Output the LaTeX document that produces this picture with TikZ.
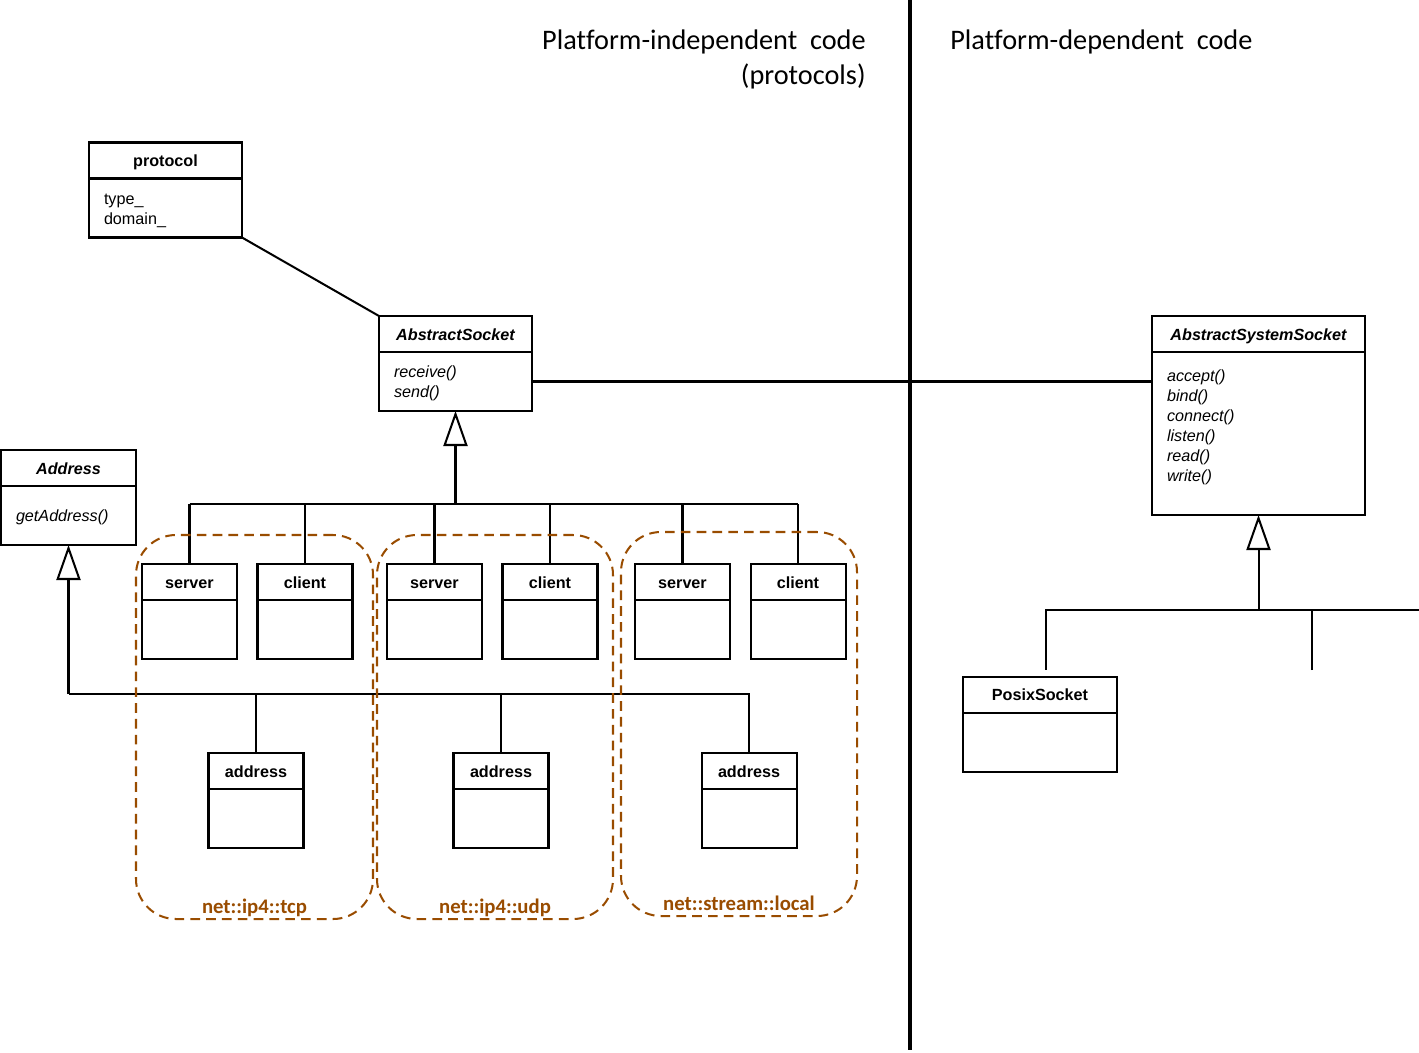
\documentclass[tikz,border=0pt]{standalone}
\usepackage{fontspec}
\setmainfont{Liberation Sans}
\newfontfamily\titlefont[Ligatures=CommonOff]{Carlito}
\usetikzlibrary{positioning,arrows.meta}

\definecolor{pkgbrown}{RGB}{153,76,0}

\tikzstyle{head} = [draw, rectangle, line width=1.15pt, outer sep=0pt, inner sep=0pt, minimum height=0.72cm, text height=7pt, text depth=0pt, font=\fontsize{9.2}{11.3}\selectfont\bfseries]
\tikzstyle{ahead} = [head, font=\fontsize{9.2}{11.3}\selectfont\bfseries\itshape]
\tikzstyle{body} = [draw, rectangle, line width=1.15pt, outer sep=0pt, inner xsep=0.3cm, inner ysep=0pt, minimum height=1.18cm, align=left, execute at begin node=\rule{0pt}{8.9pt}, font=\fontsize{9.2}{11.3}\selectfont]
\tikzstyle{abody} = [body, font=\fontsize{9.2}{11.3}\selectfont\itshape]
\tikzstyle{line} = [draw, line width=1.15pt]
\tikzstyle{inherit} = [draw, line width=1.15pt, -{Triangle[open, length=0.7cm, width=0.48cm]}]
\tikzstyle{group} = [draw=pkgbrown, dash pattern=on 5.5pt off 3.5pt, line width=1.15pt, rounded corners=0.8cm, minimum height=7.68cm]
\tikzstyle{grouplabel} = [text=pkgbrown, font=\titlefont\fontsize{11.8}{14}\selectfont\bfseries, anchor=base, inner sep=0pt]
\tikzstyle{title} = [font=\titlefont\fontsize{16.1}{19.8}\selectfont, inner sep=0pt]

\begin{document}
\begin{tikzpicture}
    \useasboundingbox (0,0) rectangle (28.38,-21.04);
    % Titles and divider
    \node [title, align=right, anchor=north east] (indep) at (17.32,-0.6) {Platform-independent\hspace{0.45em}code\\(protocols)};
    \node [title, anchor=north west] (dep) at (19.0,-0.6) {Platform-dependent\hspace{0.45em}code};
    \coordinate (divtop) at (18.2,0);
    \coordinate (divbot) at (18.2,-21.0);
    \draw [line width=2.3pt] (divtop) -- (divbot);

    % Place nodes
    \node [head, minimum width=3.06cm] (proto) at (3.31,-3.21) {protocol};
    \node [body, text width=2.46cm, below=0pt of proto] (protob) {type\_\\domain\_};
    \node [ahead, minimum width=3.06cm] (asock) at (9.11,-6.68) {AbstractSocket};
    \node [abody, text width=2.46cm, below=0pt of asock] (asockb) {receive()\\send()};
    \node [ahead, minimum width=4.26cm] (syssock) at (25.17,-6.68) {AbstractSystemSocket};
    \node [abody, text width=3.66cm, minimum height=3.26cm, below=0pt of syssock] (syssockb) {accept()\\bind()\\connect()\\listen()\\read()\\write()\\~};
    \node [ahead, minimum width=2.7cm] (addr) at (1.37,-9.36) {Address};
    \node [abody, text width=2.1cm, below=0pt of addr] (addrb) {getAddress()};
    \node [head, minimum width=3.08cm] (posix) at (20.8,-13.89) {PosixSocket};
    \node [body, minimum width=3.08cm, below=0pt of posix] (posixb) {};

    \node [head, minimum width=1.9cm] (srv1) at (3.79,-11.64) {server};
    \node [head, minimum width=1.9cm, right of=srv1, node distance=2.31cm] (cli1) {client};
    \node [head, minimum width=1.9cm, right of=srv1, node distance=4.9cm] (srv2) {server};
    \node [head, minimum width=1.9cm, right of=srv2, node distance=2.31cm] (cli2) {client};
    \node [head, minimum width=1.9cm, right of=srv1, node distance=9.86cm] (srv3) {server};
    \node [head, minimum width=1.9cm, right of=srv3, node distance=2.31cm] (cli3) {client};
    \node [head, minimum width=1.9cm] (ad1) at (5.12,-15.42) {address};
    \node [head, minimum width=1.9cm, right of=ad1, node distance=4.9cm] (ad2) {address};
    \node [head, minimum width=1.9cm, right of=ad1, node distance=9.86cm] (ad3) {address};
    \foreach \n in {srv1,cli1,srv2,cli2,srv3,cli3,ad1,ad2,ad3}
        \node [body, minimum width=1.9cm, below=0pt of \n] (\n b) {};

    % Draw edges
    \draw [line] (protob.south east) -- (asock.north west);
    \draw [line] (asockb.east) -- (asockb.east -| syssockb.west);

    \path (asockb.south) ++(0,-1.86) coordinate (bus1);
    \draw [inherit] (bus1) -- (asockb.south);
    \draw [line] (srv1.north |- bus1) -- (cli3.north |- bus1);
    \foreach \n in {srv1,cli1,srv2,cli2,srv3,cli3}
        \draw [line] (\n.north) -- (\n.north |- bus1);

    \path (addrb.south) ++(0,-2.98) coordinate (bus2);
    \draw [inherit] (bus2) -- (addrb.south);
    \draw [line] (bus2) -| (ad3.north);
    \draw [line] (ad1.north) -- (ad1.north |- bus2);
    \draw [line] (ad2.north) -- (ad2.north |- bus2);

    \path (syssockb.south) ++(0,-1.9) coordinate (bus3);
    \path (posix.north) ++(0.12,0.14) coordinate (posixtop);
    \path (bus3) ++(1.07,-1.2) coordinate (stub);
    \path (bus3) ++(3.21,0) coordinate (busend);
    \draw [inherit] (bus3) -- (syssockb.south);
    \draw [line] (posixtop) |- (busend);
    \draw [line] (stub) -- (stub |- bus3);

    % Packages
    \node [group, minimum width=4.74cm] (tcp) at (5.09,-14.54) {};
    \node [grouplabel] at ([yshift=0.14cm]tcp.south) {net::ip4::tcp};
    \node [group, minimum width=4.72cm] (udp) at (9.90,-14.54) {};
    \node [grouplabel] at ([yshift=0.14cm]udp.south) {net::ip4::udp};
    \node [group, minimum width=4.72cm] (local) at (14.78,-14.48) {};
    \node [grouplabel] at ([yshift=0.14cm]local.south) {net::stream::local};
\end{tikzpicture}
\end{document}
